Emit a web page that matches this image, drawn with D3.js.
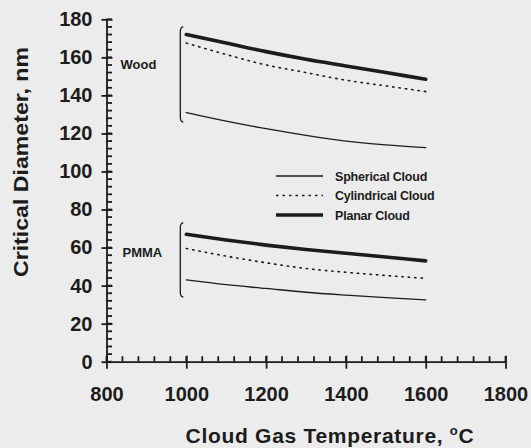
<!DOCTYPE html>
<html>
<head>
<meta charset="utf-8">
<script src="https://cdn.jsdelivr.net/npm/d3@7"></script>
<style>
  body { margin: 0; background: #ececec; }
  svg { display: block; font-family: Arial, "Liberation Sans", sans-serif; }
</style>
</head>
<body>
<script>
// values
const temps = [1000, 1100, 1200, 1300, 1400, 1500, 1600];

const woodSpherical   = [131, 126.5, 122.5, 119, 116, 114, 112.5];
const woodCylindrical = [167.5, 161.5, 156, 152, 148, 145, 142];
const woodPlanar      = [172, 167.5, 163, 159, 155.5, 152, 148.5];

const pmmaSpherical   = [43, 40.5, 38.5, 36.5, 35, 33.7, 32.5];
const pmmaCylindrical = [59.5, 55.5, 52, 49, 47, 45.3, 43.8];
const pmmaPlanar      = [67, 64, 61.3, 59, 57, 55, 53];

const seriesNames = ['Spherical Cloud', 'Cylindrical Cloud', 'Planar Cloud'];
const groupNames = ['Wood', 'PMMA'];
const groupBrackets = [[126, 176], [34, 73]];
const groupLabelY = [154, 55];

const xTicks = [800, 1000, 1200, 1400, 1600, 1800];
const yTicks = [0, 20, 40, 60, 80, 100, 120, 140, 160, 180];
const xMinorTicks = d3.range(800, 1801, 40);
const yMinorTicks = d3.range(0, 181, 4);

const W = 531, H = 448;
const dims = { left: 106.5, right: 505.5, top: 19.3, bottom: 361.7 };

const svg = d3.select('body').append('svg')
    .attr('width', W)
    .attr('height', H);

const x = d3.scaleLinear().domain([800, 1800]).range([dims.left, dims.right]);
const y = d3.scaleLinear().domain([0, 180]).range([dims.bottom, dims.top]);

const ink = '#1c1c1c';

// line styles per cloud shape
const styles = [
    { width: 1.3, dash: null },
    { width: 1.6, dash: '1.4,5' },
    { width: 3.6, dash: null }
];

// ---- axes ----
// minor ticks point into the plot, major ticks cross the axis line
svg.append('g').selectAll('line').data(yMinorTicks)
    .enter().append('line')
    .attr('x1', dims.left).attr('x2', dims.left + 5.5)
    .attr('y1', d => y(d)).attr('y2', d => y(d))
    .attr('stroke', ink).attr('stroke-width', 1.8);

svg.append('g').selectAll('line').data(xMinorTicks)
    .enter().append('line')
    .attr('x1', d => x(d)).attr('x2', d => x(d))
    .attr('y1', dims.bottom).attr('y2', dims.bottom - 5.5)
    .attr('stroke', ink).attr('stroke-width', 1.8);

const yMajor = d3.axisLeft(y).tickValues(yTicks).tickSize(5).tickSizeOuter(0).tickPadding(9);
const xMajor = d3.axisBottom(x).tickValues(xTicks).tickSize(7).tickSizeOuter(0).tickPadding(18).tickFormat(d3.format('d'));

const yMajorG = svg.append('g').attr('transform', `translate(${dims.left},0)`).call(yMajor);
yMajorG.selectAll('.tick line').attr('x1', 6);

const xMajorG = svg.append('g').attr('transform', `translate(0,${dims.bottom})`).call(xMajor);
xMajorG.selectAll('.tick line').attr('y1', -6);

svg.selectAll('.domain').attr('stroke', ink).attr('stroke-width', 1.8);
svg.selectAll('.tick line').attr('stroke', ink).attr('stroke-width', 1.8);
svg.selectAll('.tick text')
    .attr('fill', ink)
    .style('font-size', '20px')
    .style('font-weight', 'bold');

// ---- axis titles ----
svg.append('text')
    .attr('transform', `translate(28,162) rotate(-90)`)
    .attr('text-anchor', 'middle')
    .attr('fill', ink)
    .attr('textLength', 230)
    .attr('lengthAdjust', 'spacingAndGlyphs')
    .style('font-size', '21px')
    .style('font-weight', 'bold')
    .text('Critical Diameter, nm');

const xTitle = svg.append('text')
    .attr('x', 330)
    .attr('y', 443)
    .attr('text-anchor', 'middle')
    .attr('fill', ink)
    .style('font-size', '21px')
    .style('font-weight', 'bold')
    .style('letter-spacing', '0.7px');
xTitle.append('tspan').text('Cloud Gas Temperature, ');
xTitle.append('tspan').attr('dy', -8).style('font-size', '13px').text('o');
xTitle.append('tspan').attr('dy', 8).text('C');

// ---- curves ----
const line = d3.line()
    .x(d => x(d[0]))
    .y(d => y(d[1]))
    .curve(d3.curveMonotoneX);

const groups = [
    [woodSpherical, woodCylindrical, woodPlanar],
    [pmmaSpherical, pmmaCylindrical, pmmaPlanar]
];

groups.forEach((grp, gi) => {
    grp.forEach((vals, si) => {
        svg.append('path')
            .datum(temps.map((t, i) => [t, vals[i]]))
            .attr('d', line)
            .attr('fill', 'none')
            .attr('stroke', ink)
            .attr('stroke-width', styles[si].width)
            .attr('stroke-linecap', 'round')
            .attr('stroke-dasharray', styles[si].dash);
    });

    // bracket grouping the three curves
    const bx = x(985);
    const b0 = y(groupBrackets[gi][0]);
    const b1 = y(groupBrackets[gi][1]);
    svg.append('path')
        .attr('d', `M${bx + 3},${b1} Q${bx},${b1} ${bx},${b1 + 5} L${bx},${b0 - 5} Q${bx},${b0} ${bx + 3},${b0}`)
        .attr('fill', 'none')
        .attr('stroke', ink)
        .attr('stroke-width', 1.3);

    svg.append('text')
        .attr('x', gi === 0 ? 120.5 : 122.5)
        .attr('y', y(groupLabelY[gi]))
        .attr('fill', ink)
        .style('font-size', '13px')
        .style('font-weight', 'bold')
        .text(groupNames[gi]);
});

// ---- legend ----
const legend = svg.append('g').attr('transform', 'translate(276,176)');
seriesNames.forEach((name, i) => {
    const row = legend.append('g').attr('transform', `translate(0,${i * 19.5})`);
    row.append('line')
        .attr('x1', 0).attr('x2', 47)
        .attr('stroke', ink)
        .attr('stroke-width', styles[i].width)
        .attr('stroke-dasharray', i === 1 ? '2.5,4' : null);
    row.append('text')
        .attr('x', 59)
        .attr('y', 4.5)
        .attr('fill', ink)
        .style('font-size', '12.5px')
        .style('font-weight', 'bold')
        .style('letter-spacing', '-0.2px')
        .text(name);
});
</script>
</body>
</html>
